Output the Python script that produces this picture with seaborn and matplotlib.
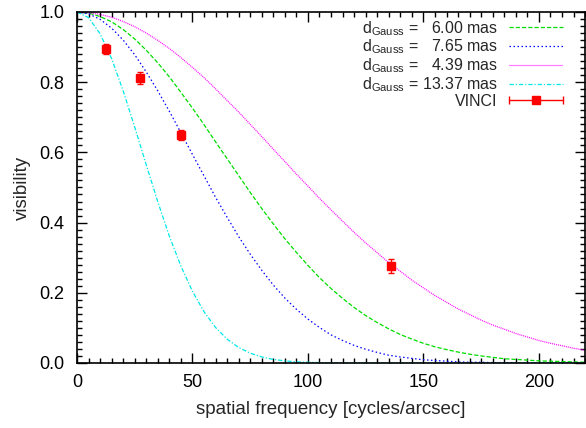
import matplotlib
matplotlib.use("Agg")
import matplotlib.pyplot as plt
import seaborn as sns
import pandas as pd
from matplotlib.lines import Line2D
from matplotlib.legend_handler import HandlerBase
from matplotlib.container import ErrorbarContainer
from matplotlib.ticker import MultipleLocator, FormatStrFormatter

# spatial frequency grid [cycles/arcsec]
freq = [0, 5, 10, 15, 20, 25, 30, 35, 40, 45, 50, 55, 60, 65, 70, 75, 80, 85, 90, 95,
        100, 105, 110, 115, 120, 125, 130, 135, 140, 145, 150, 155, 160, 165, 170,
        175, 180, 185, 190, 195, 200, 205, 210, 215, 220]

# visibility curves
vis_600 = [1.000, 0.997, 0.987, 0.972, 0.950, 0.923, 0.891, 0.855, 0.815, 0.771,
           0.726, 0.679, 0.630, 0.582, 0.534, 0.486, 0.440, 0.396, 0.354, 0.315,
           0.278, 0.243, 0.212, 0.184, 0.158, 0.135, 0.115, 0.097, 0.081, 0.068,
           0.056, 0.046, 0.038, 0.031, 0.025, 0.020, 0.016, 0.012, 0.010, 0.008,
           0.006, 0.005, 0.004, 0.003, 0.002]
vis_765 = [1.000, 0.995, 0.979, 0.954, 0.920, 0.878, 0.829, 0.775, 0.717, 0.656,
           0.594, 0.533, 0.472, 0.415, 0.360, 0.310, 0.264, 0.222, 0.185, 0.153,
           0.125, 0.101, 0.080, 0.064, 0.050, 0.039, 0.030, 0.022, 0.017, 0.013,
           0.009, 0.007, 0.005, 0.003, 0.002, 0.002, 0.001, 0.001, 0.001, 0.000,
           0.000, 0.000, 0.000, 0.000, 0.000]
vis_439 = [1.000, 0.998, 0.993, 0.985, 0.973, 0.958, 0.940, 0.919, 0.896, 0.870,
           0.842, 0.813, 0.781, 0.748, 0.715, 0.680, 0.645, 0.609, 0.574, 0.538,
           0.504, 0.469, 0.436, 0.404, 0.372, 0.342, 0.314, 0.286, 0.261, 0.236,
           0.214, 0.192, 0.173, 0.154, 0.138, 0.122, 0.108, 0.096, 0.084, 0.074,
           0.064, 0.056, 0.049, 0.042, 0.036]
vis_1337 = [1.000, 0.984, 0.938, 0.867, 0.775, 0.672, 0.564, 0.459, 0.361, 0.276,
            0.204, 0.146, 0.101, 0.068, 0.044, 0.028, 0.017, 0.010, 0.006, 0.003,
            0.002, 0.001, 0.000, 0.000, 0.000, 0.000, 0.000, 0.000, 0.000, 0.000,
            0.000, 0.000, 0.000, 0.000, 0.000, 0.000, 0.000, 0.000, 0.000, 0.000,
            0.000, 0.000, 0.000, 0.000, 0.000]

diameters = ["\u20076.00", "\u20077.65", "\u20074.39", "13.37"]

# VINCI measurements
vinci_freq = [12.6, 27.1, 45.1, 136.0]
vinci_vis = [0.895, 0.811, 0.650, 0.276]
vinci_err = [0.014, 0.017, 0.015, 0.019]

RED = "#ff0000"


class HorizontalErrorbarHandler(HandlerBase):
    # gnuplot style key: horizontal bar with caps and a square in the middle
    def create_artists(self, legend, orig_handle, xdescent, ydescent,
                       width, height, fontsize, trans):
        y = height / 2 - ydescent
        x0, x1 = -xdescent, width - xdescent
        bar = Line2D([x0, x1], [y, y], color=RED, lw=1.0)
        caps = Line2D([x0, x1], [y, y], ls="none", marker="|", ms=5.5,
                      mew=1.0, color=RED)
        square = Line2D([(x0 + x1) / 2], [y], ls="none", marker="s", ms=5.5,
                        color=RED)
        for a in (bar, caps, square):
            a.set_transform(trans)
        return [bar, caps, square]


sns.set_theme(style="ticks")
plt.rcParams["font.family"] = ["Liberation Sans", "DejaVu Sans"]
plt.rcParams["mathtext.fontset"] = "custom"
plt.rcParams["mathtext.rm"] = "Liberation Sans"
plt.rcParams["mathtext.it"] = "Liberation Sans:italic"

fig = plt.figure(figsize=(5.86, 4.28), dpi=100)
ax = fig.add_axes([0.1314, 0.152, 0.867, 0.820])

curves = [
    (vis_600, diameters[0], "#00dd00", (0, (3.4, 1.6))),
    (vis_765, diameters[1], "#0000ff", (0, (1.2, 2.0))),
    (vis_439, diameters[2], "#ff00ff", (0, (0.8, 0.8))),
    (vis_1337, diameters[3], "#00e8e8", (0, (3.5, 1.5, 1.0, 1.5))),
]

for vals, d, color, ls in curves:
    df = pd.DataFrame({"freq": freq, "vis": vals})
    sns.lineplot(data=df, x="freq", y="vis", ax=ax, color=color, lw=0.9,
                 linestyle=ls, label="d$_{\\mathrm{Gauss}}$ = " + d + " mas")

eb = ax.errorbar(vinci_freq, vinci_vis, yerr=vinci_err, fmt="s", color=RED,
                 ms=5.5, capsize=2.5, elinewidth=1.0, capthick=1.0, label="VINCI")

ax.set_xlim(0, 220)
ax.set_ylim(0, 1.0)
ax.xaxis.set_major_locator(MultipleLocator(50))
ax.xaxis.set_minor_locator(MultipleLocator(5))
ax.yaxis.set_major_locator(MultipleLocator(0.2))
ax.yaxis.set_minor_locator(MultipleLocator(0.02))
ax.yaxis.set_major_formatter(FormatStrFormatter("%.1f"))
ax.tick_params(which="both", direction="in", top=True, right=True,
               labelsize=13, colors="black", width=1.0)
ax.tick_params(axis="y", which="major", length=7, pad=9)
ax.tick_params(axis="x", which="major", length=7, pad=8)
ax.tick_params(which="minor", length=3.5)
for s in ax.spines.values():
    s.set_linewidth(1.2)
    s.set_color("black")

ax.set_xlabel("spatial frequency [cycles/arcsec]", fontsize=13.5, labelpad=7)
ax.set_ylabel("visibility", fontsize=13.5, labelpad=6)

handles, labels = ax.get_legend_handles_labels()
leg = ax.legend(handles, labels, loc="upper right", frameon=False, fontsize=11.5,
                markerfirst=False, handlelength=3.4, handletextpad=0.7,
                labelspacing=0.0, borderpad=0, borderaxespad=0,
                bbox_to_anchor=(0.957, 0.980),
                handler_map={ErrorbarContainer: HorizontalErrorbarHandler()})

fig.savefig("out.png", dpi=100)
